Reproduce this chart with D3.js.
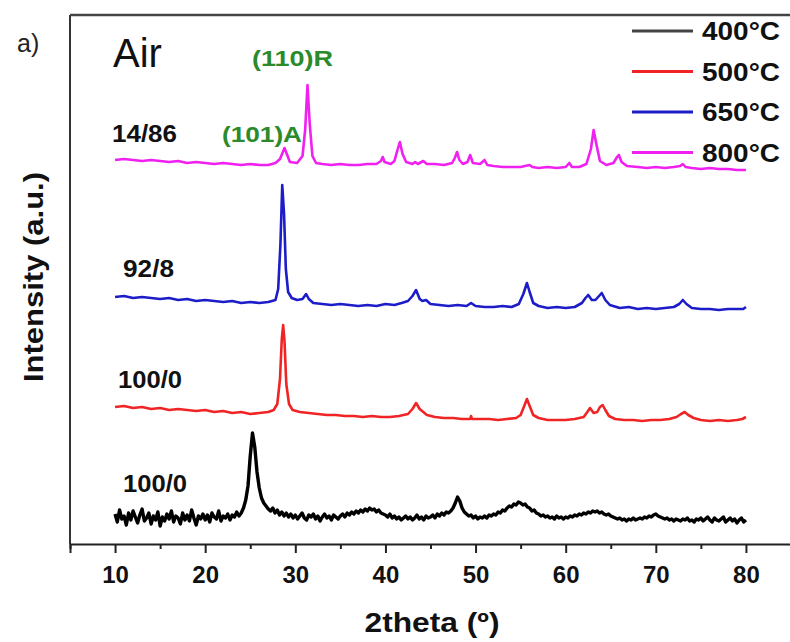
<!DOCTYPE html>
<html><head><meta charset="utf-8">
<script src="https://cdn.jsdelivr.net/npm/d3@7"></script>
<style>body{margin:0;background:#fff}svg{display:block}text{font-family:"Liberation Sans",Arial,sans-serif}</style>
</head><body><svg id="c" width="790" height="642"></svg>
<script>
// ---- data (intensities in arbitrary units, already offset for stacking) ----
const seriesNames = ["400°C","500°C","650°C","800°C"];
const seriesColors = ["#000000","#f02424","#1c1cc8","#f020f0"];
const sampleLabels = ["100/0","100/0","92/8","14/86"];
const majorTicks = [10,20,30,40,50,60,70,80];
const minorTicks = [5,15,25,35,45,55,65,75,85];
const blackStart = 10, blackStep = 0.25;
const black400 = [
30,22,34,25,28,19,31,24,33,27,21,29,35,23,26,31,20,28,24,32,
18,27,23,30,25,33,22,28,26,20,31,24,29,23,34,26,19,28,25,30,
24,29,22,31,27,25,33,23,28,26,30,24,29,27,32,28,31,36,44,58,
88,111,97,72,56,46,41,38,35,33,36,31,34,29,32,28,31,27,30,26,
29,25,28,31,26,24,29,27,30,25,28,23,27,30,26,28,24,29,27,25,
28,30,27,31,29,32,30,33,31,34,32,35,33,36,34,35,32,34,31,30,
29,27,30,26,28,25,27,24,26,28,25,27,24,26,29,25,27,24,28,26,
27,29,26,30,28,31,29,32,31,33,36,41,47,43,36,32,30,28,29,26,
28,25,27,26,28,26,29,28,30,29,32,31,34,33,36,38,37,40,39,42,
41,39,40,37,36,33,34,31,30,28,29,27,28,26,27,25,28,26,27,25,
27,26,28,27,29,28,30,29,31,30,32,31,33,32,33,31,32,30,29,30,
28,27,26,25,26,24,25,23,25,24,26,24,25,26,25,27,26,28,27,29,
30,28,27,26,25,26,24,25,23,25,24,23,25,24,26,23,24,22,25,24,
26,23,25,27,24,22,26,24,23,25,27,22,24,26,23,25,21,24,26,22,
24];
const red500 = [[10,137],[11,138],[12,136],[13,137],[14,135],[15,136],[16,134],[17,135],[18,134],[19,133],[20,134],[21,132],[22,133],[23,131],[24,132],[25,130],[26,131],[27,132],[27.6,134],[28.0,140],[28.3,165],[28.5,205],[28.65,219],[28.8,203],[29.0,160],[29.3,140],[29.7,134],[30.5,132],[31.5,131],[32.5,130],[33.5,129],[34.5,129],[35.5,128],[36.5,128],[37.5,127],[38.5,128],[39.5,127],[40.5,127],[41.5,128],[42.5,130],[43.0,135],[43.4,141],[43.8,135],[44.2,132],[44.6,129],[45.5,127],[46.5,126],[47.5,126],[48.5,125],[49.4,125],[49.5,128],[49.6,125],[50.5,125],[51.5,125],[52.5,124],[53.5,125],[54.5,126],[55.0,129],[55.4,138],[55.7,145],[56.0,138],[56.4,129],[57,126],[58,124],[59,124],[60,124],[61,125],[62,127],[62.4,132],[62.7,136],[63.1,131],[63.5,132],[63.8,137],[64.1,139],[64.4,134],[64.8,128],[65.5,125],[66.5,124],[67.5,124],[68.5,123],[69.5,124],[70.5,124],[71.5,125],[72.3,127],[72.8,130],[73.2,132],[73.6,129],[74.2,126],[75,124],[76,123],[77,124],[78,123],[79,124],[79.6,125],[80,127]];
const blue650 = [[10,247],[11,248],[12,246],[13,247],[14,246],[15,245],[16,246],[17,244],[18,245],[19,243],[20,244],[21,243],[22,242],[23,243],[24,241],[25,242],[26,241],[27,242],[27.8,244],[28.1,255],[28.35,300],[28.55,359],[28.75,330],[28.95,275],[29.2,252],[29.6,246],[30.2,244],[30.8,245],[31.2,250],[31.5,245],[32,241],[33,240],[34,239],[35,240],[36,239],[37,238],[38,239],[39,238],[40,240],[41,239],[41.8,241],[42.5,243],[43.0,248],[43.4,254],[43.8,245],[44.1,243],[44.5,244],[45.0,240],[46,239],[47,238],[48,239],[49,238],[49.5,241],[50,238],[51,237],[52,237],[53,238],[54,237],[54.8,240],[55.3,250],[55.7,261],[56.0,252],[56.4,241],[57,238],[58,236],[59,237],[60,236],[61,237],[61.8,241],[62.2,246],[62.5,249],[62.9,244],[63.3,244],[63.7,248],[64.0,251],[64.4,244],[64.9,239],[66,236],[67,237],[68,235],[69,236],[70,235],[71,236],[72,237],[72.6,240],[73.0,244],[73.4,240],[74,236],[75,235],[76,235],[77,234],[78,235],[79,235],[79.7,235],[80,237]];
const magenta800 = [[10,384],[11,385],[12,384],[13,383],[14,384],[15,383],[16,382],[17,383],[18,381],[19,382],[20,381],[21,380],[22,381],[23,380],[24,379],[25,380],[26,379],[27,379],[27.8,381],[28.3,385],[28.8,396],[29.1,389],[29.4,382],[30.2,381],[30.8,388],[31.1,415],[31.35,459],[31.6,420],[31.9,388],[32.3,381],[33,380],[34,379],[35,380],[36,379],[37,379],[38,380],[39,380],[39.5,383],[39.7,387],[39.9,382],[40.6,380],[41.0,383],[41.3,393],[41.6,402],[41.9,390],[42.3,382],[43,380],[43.3,382],[43.6,380],[44.2,383],[44.6,380],[45.5,380],[46.5,379],[47.4,381],[47.7,386],[47.95,392],[48.2,384],[48.6,380],[49.1,382],[49.4,389],[49.7,381],[50.5,380],[51.0,384],[51.3,379],[52,378],[53,377],[54,377],[55,377],[56.0,379],[56.3,377],[57,376],[58,377],[59,376],[60.0,377],[60.4,381],[60.7,377],[61.5,377],[62.3,380],[62.8,395],[63.1,414],[63.4,400],[63.8,383],[64.5,379],[65.3,381],[65.7,387],[65.9,389],[66.2,382],[66.8,378],[68,377],[69,376],[70,377],[71,376],[72,377],[72.7,378],[73.0,380],[73.3,377],[74,376],[75,375],[76,376],[77,375],[78,375],[79,374],[80,374]];

// ---- layout ----
const svg = d3.select("#c");
const L = 70, T = 15, B = 544, R = 791;
const x = d3.scaleLinear().domain([5,85]).range([L,R]);
const y = d3.scaleLinear().domain([0,529]).range([B,T]);
const font = '"Liberation Sans",Arial,sans-serif';

const blackPts = black400.map((v,i)=>[blackStart + i*blackStep, v]);
const allSeries = [blackPts, red500, blue650, magenta800];

const line = d3.line().x(d=>x(d[0])).y(d=>y(d[1]));
const g = svg.append("g");
allSeries.forEach((s,i)=>{
  g.append("path").datum(s).attr("d",line).attr("fill","none")
   .attr("stroke",seriesColors[i]).attr("stroke-width", i===0?3.4:2.6)
   .attr("stroke-linejoin","round");
});

// frame: left and top
svg.append("line").attr("x1",L).attr("x2",L).attr("y1",T).attr("y2",B).attr("stroke","#333").attr("stroke-width",2);
svg.append("line").attr("x1",L).attr("x2",R).attr("y1",T).attr("y2",T).attr("stroke","#444").attr("stroke-width",2.5);

// x axis
const ax = svg.append("g").attr("transform",`translate(0,${B})`)
  .call(d3.axisBottom(x).tickValues(majorTicks).tickSize(9).tickPadding(8).tickFormat(d3.format("d")));
ax.select(".domain").attr("stroke","#222").attr("stroke-width",2);
ax.selectAll(".tick line").attr("stroke","#222").attr("stroke-width",2);
ax.selectAll(".tick text").attr("font-family",font).attr("font-size",24).attr("font-weight","bold").attr("fill","#111").attr("dy",null).attr("y",39);
const axm = svg.append("g").attr("transform",`translate(0,${B})`)
  .call(d3.axisBottom(x).tickValues(minorTicks).tickSize(5).tickFormat(""));
axm.select(".domain").remove();
axm.selectAll(".tick line").attr("stroke","#222").attr("stroke-width",2);

// axis titles
svg.append("text").attr("x",432).attr("y",632).attr("text-anchor","middle")
  .attr("font-size",28).attr("font-weight","bold").attr("fill","#111")
  .attr("textLength",135).attr("lengthAdjust","spacingAndGlyphs").text("2theta (º)");
svg.append("text").attr("transform","translate(43,277) rotate(-90)").attr("text-anchor","middle")
  .attr("font-size",28).attr("font-weight","bold").attr("fill","#111")
  .attr("textLength",210).attr("lengthAdjust","spacingAndGlyphs").text("Intensity (a.u.)");

// annotations
svg.append("text").attr("x",17).attr("y",52).attr("font-size",25).attr("fill","#222").text("a)");
svg.append("text").attr("x",113).attr("y",67).attr("font-size",40).attr("fill","#111").text("Air");
const green = "#2b8a2b";
svg.append("text").attr("x",252).attr("y",66).attr("font-size",22).attr("font-weight","bold").attr("fill",green)
  .attr("textLength",81).attr("lengthAdjust","spacingAndGlyphs").text("(110)R");
svg.append("text").attr("x",222).attr("y",142).attr("font-size",22).attr("font-weight","bold").attr("fill",green)
  .attr("textLength",80).attr("lengthAdjust","spacingAndGlyphs").text("(101)A");

const labelPos = [[123,492,64],[118,388,64],[123,277,51],[112,142,65]];
sampleLabels.forEach((t,i)=>{
  svg.append("text").attr("x",labelPos[i][0]).attr("y",labelPos[i][1]).attr("font-size",23).attr("font-weight","bold")
   .attr("fill","#111").attr("textLength",labelPos[i][2]).attr("lengthAdjust","spacingAndGlyphs").text(t);
});

// legend
const lg = svg.append("g");
seriesNames.forEach((n,i)=>{
  const ly = 31 + i*40.5;
  lg.append("line").attr("x1",632).attr("x2",693).attr("y1",ly).attr("y2",ly)
    .attr("stroke", i===0?"#444":seriesColors[i]).attr("stroke-width",3);
  lg.append("text").attr("x",702).attr("y",ly+9).attr("font-size",25).attr("font-weight","bold")
    .attr("fill","#111").attr("textLength",78).attr("lengthAdjust","spacingAndGlyphs").text(n);
});
</script></body></html>
